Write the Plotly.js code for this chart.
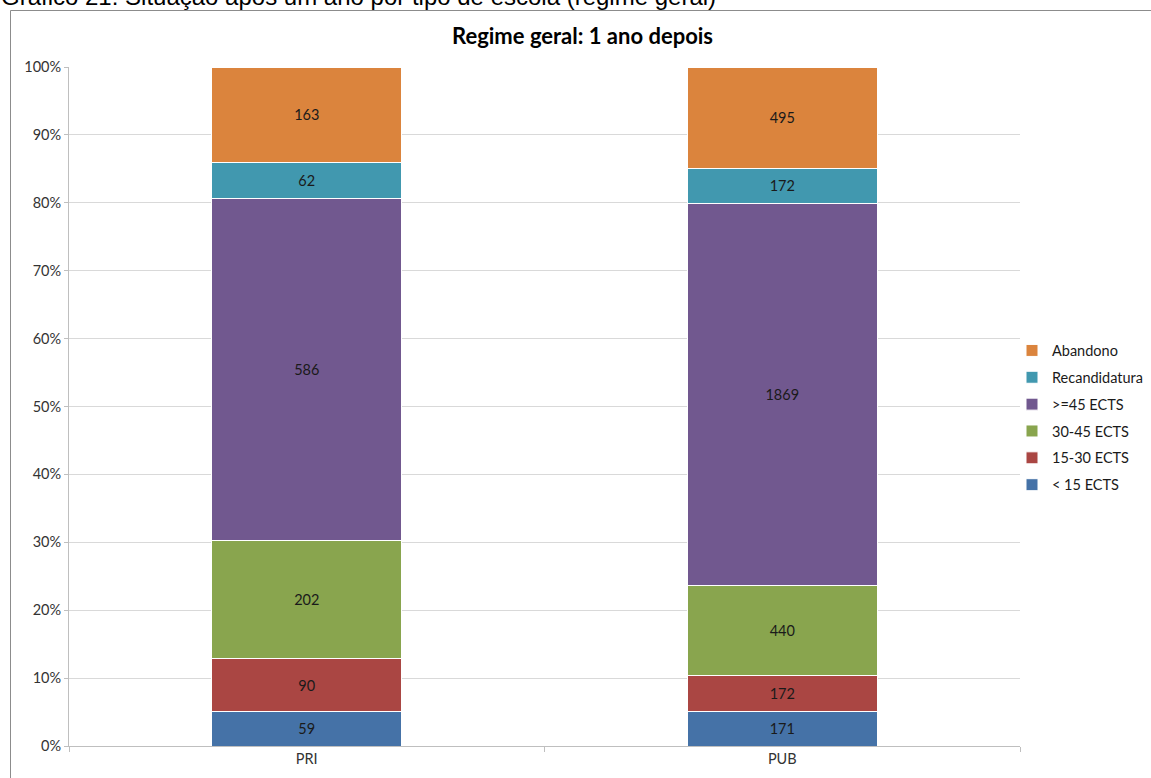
<!DOCTYPE html>
<html>
<head>
<meta charset="utf-8">
<script src="https://cdn.plot.ly/plotly-3.0.1.min.js"></script>
<style>html,body{margin:0;padding:0;background:#fff;overflow:hidden;}#chart{width:1151px;height:778px;}</style>
</head>
<body>
<div id="chart"></div>
<script>
const categories = ["PRI", "PUB"];
const seriesNames = ["< 15 ECTS", "15-30 ECTS", "30-45 ECTS", ">=45 ECTS", "Recandidatura", "Abandono"];
const lt15 = [59, 171];
const e15_30 = [90, 172];
const e30_45 = [202, 440];
const ge45 = [586, 1869];
const recandidatura = [62, 172];
const abandono = [163, 495];
const colors = ["#4572A7", "#AA4643", "#89A54E", "#71588F", "#4198AF", "#DB843D"];
const yTicks = [0, 10, 20, 30, 40, 50, 60, 70, 80, 90, 100];

const seriesValues = [lt15, e15_30, e30_45, ge45, recandidatura, abandono];
const FONT = "Lato, 'Open Sans', sans-serif";
const FS = 14.5;

const traces = seriesValues.map((vals, i) => ({
  type: "bar",
  name: seriesNames[i],
  x: categories,
  y: vals,
  text: vals.map(String),
  textposition: "inside",
  insidetextanchor: "middle",
  textangle: 0,
  constraintext: "none",
  textfont: {family: FONT, size: FS, color: "#1a1a1a"},
  marker: {color: colors[i], line: {color: "#ffffff", width: 1}},
  legendgroup: "g" + i,
  legendrank: seriesValues.length - i,
  hoverinfo: "name+text"
}));

// pixel helpers
const W = 1151, H = 778, L = 69, R = 131, T = 67, B = 32;
const pw = W - L - R, ph = H - T - B;
const px = x => (x - L) / pw;
const py = y => (H - B - y) / ph;

const layout = {
  width: W, height: H,
  margin: {l: L, r: R, t: T, b: B, pad: 0, autoexpand: false},
  paper_bgcolor: "#ffffff",
  plot_bgcolor: "#ffffff",
  barmode: "stack",
  barnorm: "percent",
  bargap: 0.6,
  showlegend: true,
  font: {family: FONT, size: FS, color: "#333333"},
  xaxis: {
    type: "category",
    showgrid: false,
    showline: true, linecolor: "#bfbfbf", linewidth: 1,
    ticks: "outside", tickson: "boundaries", ticklen: 5, tickcolor: "#bfbfbf",
    tickfont: {family: FONT, size: FS, color: "#333333"},
    zeroline: false
  },
  yaxis: {
    range: [0, 100],
    tickvals: yTicks,
    ticktext: yTicks.map(v => v + "%"),
    showgrid: true, gridcolor: "#d9d9d9", gridwidth: 1,
    showline: true, linecolor: "#bfbfbf", linewidth: 1,
    ticks: "outside", ticklen: 4, tickcolor: "#bfbfbf",
    tickfont: {family: FONT, size: FS, color: "#333333"},
    zeroline: false
  },
  legend: {
    x: px(1012), xanchor: "left",
    y: py(418), yanchor: "middle",
    traceorder: "grouped",
    tracegroupgap: 5,
    font: {family: FONT, size: FS, color: "#1a1a1a"},
    itemwidth: 30,
    bgcolor: "rgba(0,0,0,0)"
  },
  shapes: [{
    type: "rect", xref: "paper", yref: "paper",
    x0: px(10.5), x1: px(1160), y0: py(790), y1: py(10.5),
    line: {color: "#8c8c8c", width: 1}, fillcolor: "rgba(0,0,0,0)", layer: "below"
  }],
  annotations: [
    {
      text: "<b>Regime geral: 1 ano depois</b>",
      xref: "paper", yref: "paper", x: px(582), y: py(36),
      xanchor: "center", yanchor: "middle", showarrow: false,
      font: {family: FONT, size: 22, color: "#000000"}
    },
    {
      text: "Gráfico 21: Situação após um ano por tipo de escola (regime geral)",
      xref: "paper", yref: "paper", x: px(-1), y: py(-3.5),
      xanchor: "left", yanchor: "middle", showarrow: false,
      font: {family: "'Liberation Sans', Arial, sans-serif", size: 24, color: "#000000"}
    }
  ]
};

Plotly.newPlot("chart", traces, layout, {displayModeBar: false, staticPlot: true});
</script>
</body>
</html>
